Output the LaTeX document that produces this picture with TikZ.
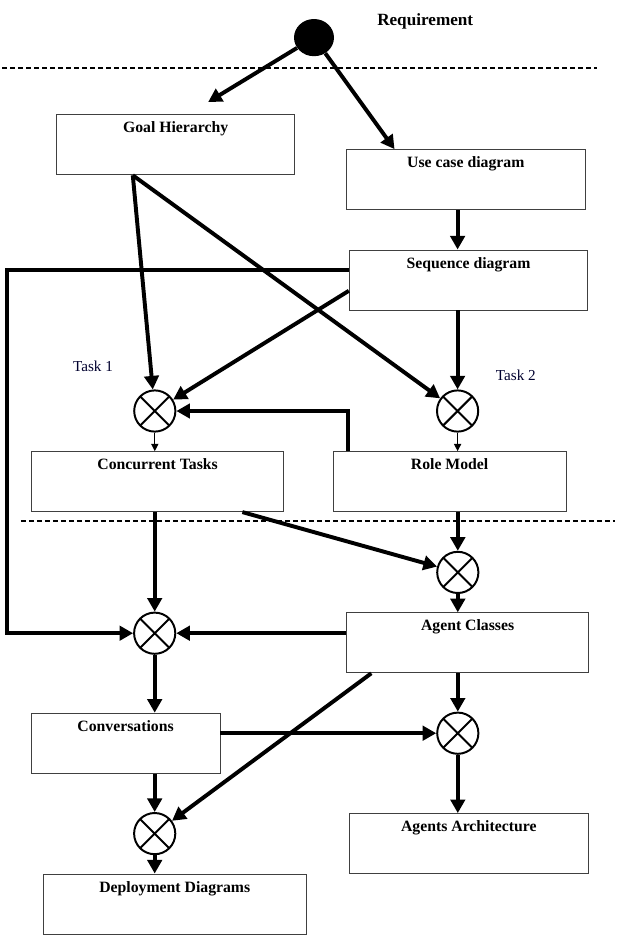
\documentclass[tikz,border=0pt]{standalone}
\usepackage{fontspec}
\setmainfont{Liberation Serif}
\usepackage{tikz}
\usetikzlibrary{arrows.meta,positioning,calc,shapes.geometric}

\begin{document}
\begin{tikzpicture}[
    box/.style={rectangle, draw=black!75, line width=0.7pt, minimum height=1.5cm, inner ysep=0.15cm, text height=0.3cm, text depth=0.9cm, font=\fontsize{11.2}{13}\selectfont\bfseries},
    mix/.style={circle, draw, line width=1.4pt, minimum size=1.03cm, inner sep=0pt,
        path picture={\draw[line width=1.4pt] (path picture bounding box.north west) -- (path picture bounding box.south east)
            (path picture bounding box.north east) -- (path picture bounding box.south west);}},
    flow/.style={line width=2.8pt, -{Triangle[length=0.34cm, width=0.36cm]}},
    thinflow/.style={line width=0.7pt, -{Triangle[length=0.18cm, width=0.18cm]}},
    sep/.style={line width=1.4pt, dash pattern=on 0.13cm off 0.07cm},
    lbl/.style={font=\fontsize{10.8}{13}\selectfont, text=black!80!blue!90!black}]

    \useasboundingbox (0,0) rectangle (15.575,-23.4);

    \node[ellipse, fill=black, minimum width=1cm, minimum height=0.93cm, inner sep=0pt] (req) at (7.85,-0.94) {};
    \node[font=\fontsize{12.2}{14}\selectfont\bfseries] (reqlbl) at (10.63,-0.54) {Requirement};

    \draw[sep] (0.05,-1.71) -- (14.93,-1.71);
    \draw[sep] (0.52,-13.03) -- (15.38,-13.03);

    \node[box, minimum width=5.96cm] (goal) at (4.39,-3.62) {Goal Hierarchy};
    \node[box, minimum width=5.96cm] (usecase) at (11.645,-4.49) {Use case diagram};
    \node[box, minimum width=5.96cm] (seq) at (11.7125,-7.0) {Sequence diagram};
    \node[box, minimum width=6.29cm] (tasks) at (3.94,-12.04) {Concurrent Tasks};
    \node[box, minimum width=5.82cm] (role) at (11.24,-12.04) {Role Model};
    \node[box, minimum width=6.04cm] (agents) at (11.69,-16.07) {Agent Classes};
    \node[box, minimum width=4.72cm] (conv) at (3.14,-18.58) {Conversations};
    \node[box, minimum width=5.975cm] (arch) at (11.72,-21.09) {Agents Architecture};
    \node[box, minimum width=6.57cm] (deploy) at (4.37,-22.6) {Deployment Diagrams};

    \node[mix] (m1) at (3.87,-10.275) {};
    \node[mix] (m2) at (11.44,-10.275) {};
    \node[mix] (m3) at (11.445,-14.31) {};
    \node[mix] (m4) at (3.8675,-15.83) {};
    \node[mix] (m5) at (11.445,-18.33) {};
    \node[mix] (m6) at (3.8675,-20.84) {};

    \node[lbl] (task1) at (2.325,-9.15) {Task 1};
    \node[lbl] (task2) at (12.895,-9.375) {Task 2};

    \coordinate (edge) at (0.1675,0);
    \coordinate (seqw) at ($(seq.west)+(0,0.24)$);

    % analysis
    \draw[flow, shorten >=0.59cm] (req) -- ($(goal.north)+(0.31,0)$);
    \draw[flow] (req) -- ($(usecase.north west)+(1.21,0)$);
    \draw[flow] (usecase.south -| m2) -- (seq.north -| m2);
    \draw[flow] ($(goal.south)+(-1.07,0)$) -- (m1);
    \draw[flow] ($(goal.south)+(-1.07,0)$) -- (m2);
    \draw[flow] ($(seq.west)+(0,-0.27)$) -- (m1);
    \draw[flow] (seq.south -| m2) -- (m2);
    \draw[flow] (seqw) -- (seqw -| edge) |- (m4);
    \draw[flow] ($(role.north west)+(0.375,0)$) |- (m1);
    \draw[thinflow] (m1) -- (tasks.north -| m1);
    \draw[thinflow] (m2) -- (role.north -| m2);

    % design
    \draw[flow] (tasks.south -| m4) -- (m4);
    \draw[flow] ($(tasks.south)+(2.12,0)$) -- (m3);
    \draw[flow] (role.south -| m3) -- (m3);
    \draw[flow] (m3) -- (agents.north -| m3);
    \draw[flow] (agents.west |- m4) -- (m4);
    \draw[flow] (m4) -- (conv.north -| m4);
    \draw[flow] (agents.south -| m5) -- (m5);
    \draw[flow] (conv.east |- m5) -- (m5);
    \draw[flow] ($(agents.south west)+(0.625,0)$) -- (m6);
    \draw[flow] (conv.south -| m6) -- (m6);
    \draw[flow] (m5) -- (arch.north -| m5);
    \draw[flow] (m6) -- (deploy.north -| m6);
\end{tikzpicture}
\end{document}
